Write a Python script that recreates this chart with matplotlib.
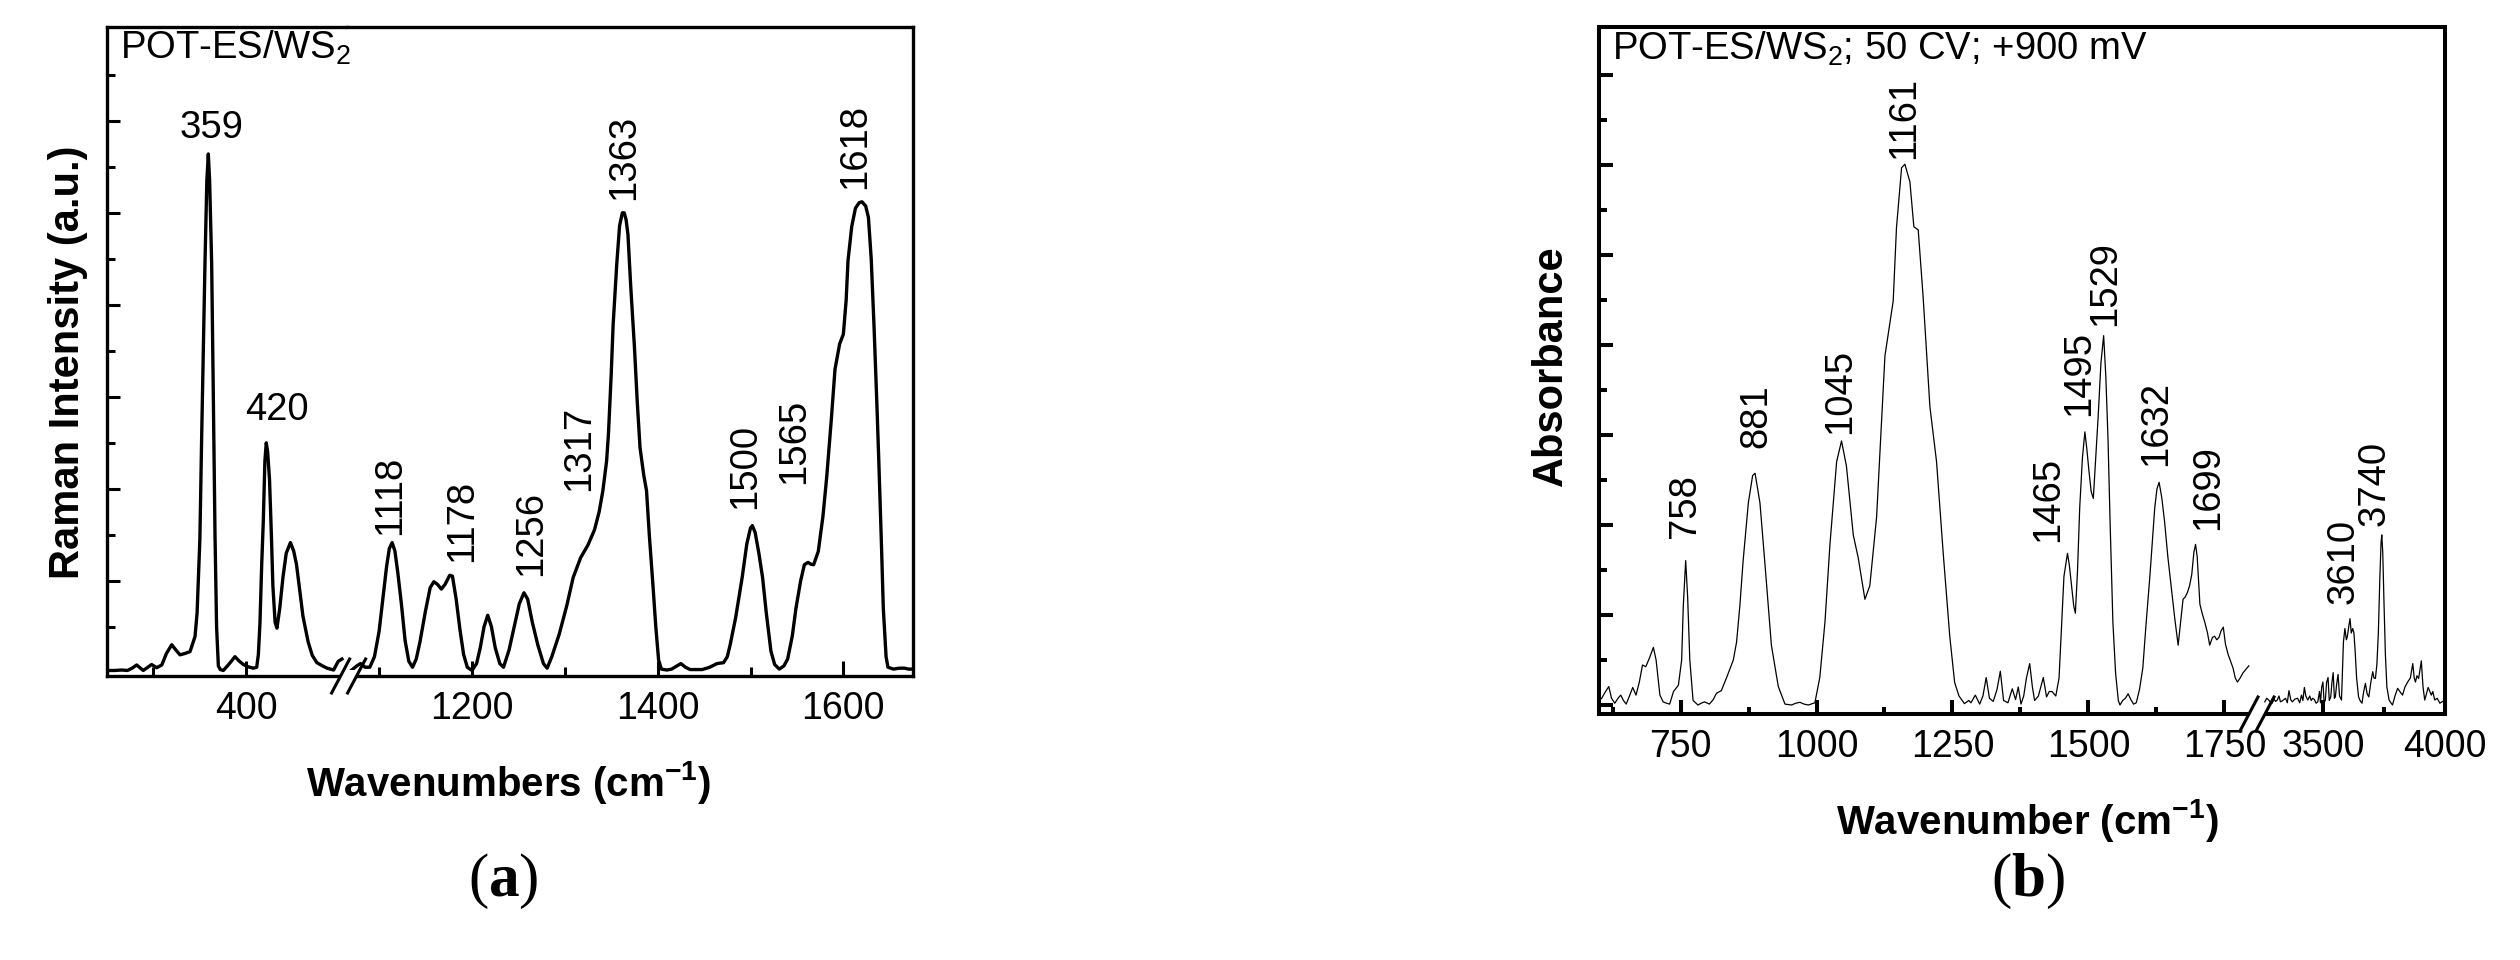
import matplotlib
matplotlib.use("Agg")
import matplotlib.pyplot as plt
from matplotlib import font_manager
from matplotlib.lines import Line2D
from matplotlib.patches import Polygon

# ---------------- Panel (a): Raman spectrum ----------------
raman_low_points = [
    (250, 0.05), (258, 0.05), (266, 0.06), (272, 0.05), (277, 0.10), (282, 0.17), (286, 0.10),
    (289, 0.05), (294, 0.12), (298, 0.18), (303.5, 0.11), (309, 0.17), (314, 0.42), (319.7, 0.61),
    (324, 0.50), (328.6, 0.39), (334, 0.42), (339.4, 0.46), (344.8, 0.79), (347, 1.3), (350, 2.9),
    (352, 5.2), (355.5, 8.9), (357.5, 10.7), (359.1, 11.28), (360.5, 10.7), (362.7, 8.9),
    (364.5, 6.0), (366.3, 3.0), (368, 1.0), (369.9, 0.15), (372, 0.07), (375.3, 0.05), (381, 0.18),
    (387.8, 0.35), (392, 0.26), (396.8, 0.18), (402, 0.13), (407.6, 0.10), (411.2, 0.12), (413, 0.4),
    (414.7, 1.08), (416.6, 2.36), (418.3, 3.3), (420, 4.6), (421.5, 5.0), (423, 4.8), (425, 4.2),
    (427, 3.0), (428.6, 1.9), (431, 1.1), (433, 0.97), (436, 1.4), (439.5, 2.08), (443, 2.6),
    (447.5, 2.83), (451, 2.65), (454, 2.36), (457.5, 1.8), (461, 1.23), (466.6, 0.67), (471, 0.38),
    (476, 0.22), (482, 0.15), (487, 0.10), (494, 0.06), (499, 0.25), (503, 0.30),
]
raman_high_points = [
    (1070, 0.05), (1076, 0.15), (1080, 0.2), (1085, 0.12), (1090, 0.12), (1095, 0.35), (1100, 0.9),
    (1104, 1.6), (1108, 2.3), (1111, 2.7), (1114, 2.83), (1117, 2.65), (1120, 2.2), (1124, 1.5),
    (1128, 0.7), (1132, 0.25), (1136, 0.12), (1140, 0.3), (1144, 0.67), (1150, 1.35), (1155, 1.85),
    (1159, 1.98), (1163, 1.92), (1167, 1.82), (1171, 1.92), (1176, 2.12), (1179, 2.1), (1183, 1.6),
    (1187, 0.95), (1191, 0.4), (1195, 0.12), (1200, 0.05), (1205, 0.2), (1209, 0.55), (1213, 1.0),
    (1217, 1.25), (1221, 1.0), (1225, 0.55), (1230, 0.2), (1234, 0.12), (1240, 0.5), (1246, 1.05),
    (1251, 1.5), (1256, 1.74), (1260, 1.6), (1265, 1.1), (1271, 0.6), (1277, 0.2), (1281, 0.1),
    (1286, 0.35), (1294, 0.84), (1302, 1.45), (1309, 2.07), (1317, 2.5), (1325, 2.78), (1332, 3.11),
    (1337, 3.5), (1341, 3.96), (1345, 4.6), (1347, 5.19), (1350, 6.5), (1352, 7.55), (1356, 8.9),
    (1359, 9.72), (1362, 10.0), (1364, 10.0), (1366, 9.85), (1368, 9.53), (1371, 8.4), (1375, 7.08),
    (1378, 5.9), (1381, 4.9), (1385, 4.3), (1388, 3.96), (1391, 3.0), (1395, 1.88), (1398, 1.0),
    (1401, 0.28), (1404, 0.08), (1410, 0.06), (1415, 0.08), (1420, 0.14), (1425, 0.2), (1430, 0.12),
    (1435, 0.07), (1448, 0.07), (1456, 0.12), (1464, 0.2), (1471, 0.22), (1475, 0.35), (1478, 0.6),
    (1484, 1.2), (1491, 2.07), (1496, 2.8), (1500, 3.15), (1502, 3.2), (1505, 3.05), (1509, 2.6),
    (1513, 2.07), (1517, 1.3), (1522, 0.47), (1526, 0.18), (1531, 0.08), (1536, 0.15), (1540, 0.3),
    (1545, 0.8), (1549, 1.41), (1554, 2.0), (1558, 2.35), (1562, 2.4), (1565, 2.36), (1568, 2.35),
    (1573, 2.64), (1578, 3.4), (1582, 4.24), (1587, 5.5), (1591, 6.6), (1596, 7.15), (1600, 7.36),
    (1603, 8.1), (1605, 8.96), (1609, 9.7), (1613, 10.1), (1617, 10.22), (1620, 10.24),
    (1624, 10.15), (1627, 9.9), (1630, 9.0), (1633, 7.55), (1636, 5.9), (1638, 4.71), (1641, 2.8),
    (1643, 1.41), (1646, 0.35), (1648, 0.12), (1654, 0.08), (1660, 0.1), (1666, 0.1), (1670, 0.08),
    (1675, 0.08),
]
raman_xlim_low = (250, 508)
raman_xlim_high = (1065, 1675)
raman_ylim = (-0.07, 14.04)
raman_major_low = [400]
raman_minor_low = [300]
raman_major_high = [1200, 1400, 1600]
raman_minor_high = [1100, 1300, 1500]
raman_yticks_major = [2, 4, 6, 8, 10, 12]
raman_yticks_minor = [1, 3, 5, 7, 9, 11, 13]
raman_flat_labels = ["359", "420"]
raman_flat_x = [363, 433]
raman_flat_y = [11.63, 5.5]
raman_rot_labels = ["1118", "1178", "1256", "1317", "1363", "1500", "1565", "1618"]
raman_rot_x = [1111.7, 1189, 1263.5, 1315, 1364, 1494.5, 1547, 1613]
raman_rot_y = [3.0, 2.4, 2.1, 3.95, 10.28, 3.55, 4.1, 10.52]

# ---------------- Panel (b): FTIR spectrum ----------------
ftir_low_points = [
    (600, 0.1), (605, 0.15), (612, 0.3), (618, 0.41), (623, 0.15), (629, 0.04), (635, 0.15),
    (640, 0.22), (645, 0.1), (650, 0.02), (656, 0.2), (662, 0.39), (668, 0.22), (674, 0.5),
    (680, 0.89), (686, 0.85), (693, 1.05), (700, 1.28), (705, 1.0), (709, 0.55), (712, 0.22),
    (718, 0.07), (724, 0.04), (730, 0.02), (737, 0.3), (746, 0.44), (752, 1.0), (755, 2.2),
    (759.4, 3.21), (763, 2.4), (767, 1.0), (773, 0.1), (782, 0.0), (788, 0.04), (794, 0.07),
    (803, 0.02), (810, 0.12), (816, 0.26), (825, 0.32), (835, 0.62), (847, 1.0), (853, 1.4),
    (859, 2.2), (865, 3.2), (874.6, 4.49), (882.5, 5.1), (887, 5.15), (896, 4.49), (905, 3.16),
    (917, 1.33), (929.7, 0.41), (942, 0.02), (954, 0.0), (962, 0.04), (969.5, 0.06), (977, 0.02),
    (985, 0.0), (997, 0.05), (1006, 0.61), (1015.5, 1.84), (1024.7, 3.57), (1037, 5.41),
    (1046, 5.87), (1055, 5.31), (1067.6, 3.78), (1076.7, 3.27), (1089, 2.35), (1098, 2.65),
    (1110.5, 4.18), (1125.8, 7.76), (1141, 8.98), (1147, 10.6), (1156.4, 11.94), (1162.5, 12.02),
    (1171.7, 11.63), (1179, 10.63), (1187, 10.56), (1196, 9.08), (1208.5, 6.63), (1220.7, 5.41),
    (1233, 3.37), (1245, 1.53), (1254, 0.5), (1262, 0.2), (1272, 0.03), (1280, 0.1), (1284, 0.05),
    (1292, 0.22), (1300, 0.02), (1306, 0.2), (1312, 0.61), (1318, 0.15), (1325, 0.08), (1332, 0.35),
    (1338, 0.75), (1344, 0.1), (1352, 0.05), (1360, 0.36), (1366, 0.12), (1371, 0.4), (1376, 0.02),
    (1381, 0.2), (1386, 0.6), (1392, 0.92), (1397, 0.4), (1401, 0.1), (1408, 0.2), (1417, 0.61),
    (1423, 0.18), (1428, 0.3), (1433, 0.3), (1440, 0.2), (1446, 0.6), (1450, 1.6), (1455, 2.86),
    (1461.5, 3.37), (1465, 3.1), (1469, 2.65), (1473, 2.2), (1476, 2.04), (1480, 3.0), (1484, 4.39),
    (1489, 5.5), (1493.5, 6.07), (1497, 5.7), (1501, 5.2), (1505, 4.75), (1509, 4.59), (1513, 5.4),
    (1518, 6.43), (1523, 7.6), (1528, 8.21), (1532, 7.3), (1536, 5.92), (1540, 4.0), (1545, 1.84),
    (1550, 0.7), (1555, 0.1), (1558, 0.0), (1563, 0.1), (1568, 0.15), (1573, 0.25), (1578, 0.12),
    (1583, 0.02), (1588, 0.05), (1594, 0.35), (1600, 0.82), (1606, 1.8), (1613, 2.86), (1618, 3.7),
    (1622, 4.39), (1626, 4.8), (1630, 4.95), (1635, 4.6), (1640, 4.08), (1646, 3.3), (1653, 2.55),
    (1659, 1.9), (1665, 1.33), (1670, 1.9), (1674, 2.35), (1678, 2.4), (1682, 2.5), (1686, 2.65),
    (1690, 2.9), (1694, 3.4), (1697, 3.57), (1700, 3.3), (1705, 2.24), (1710, 2.0), (1714, 1.84),
    (1719, 1.6), (1723, 1.33), (1728, 1.5), (1732, 1.53), (1736, 1.45), (1740, 1.5), (1744, 1.65),
    (1748, 1.73), (1752, 1.35), (1757, 1.12), (1762, 0.95), (1766, 0.82), (1770, 0.6), (1774, 0.51),
    (1779, 0.6), (1784, 0.71), (1790, 0.8), (1795, 0.87),
]
ftir_high_points = [
    (3262, 0.07), (3270, 0.15), (3278, 0.11), (3285, 0.06), (3292, 0.04), (3300, 0.13), (3306, 0.08),
    (3313, 0.11), (3320, 0.2), (3326, 0.07), (3333, 0.09), (3340, 0.12), (3347, 0.15), (3354, 0.05),
    (3361, 0.32), (3368, 0.12), (3375, 0.07), (3385, 0.13), (3396, 0.15), (3405, 0.05), (3412, 0.22),
    (3418, 0.1), (3424, 0.39), (3430, 0.2), (3438, 0.11), (3446, 0.2), (3452, 0.1), (3458, 0.15),
    (3465, 0.12), (3472, 0.04), (3479, 0.07), (3486, 0.3), (3490, 0.05), (3495, 0.4), (3500, 0.51),
    (3505, 0.05), (3510, 0.11), (3515, 0.5), (3521, 0.61), (3526, 0.1), (3532, 0.18), (3537, 0.5),
    (3542, 0.72), (3547, 0.15), (3551, 0.18), (3556, 0.45), (3562, 0.68), (3568, 0.2), (3576, 0.11),
    (3584, 1.4), (3590, 1.7), (3596, 1.45), (3600, 1.52), (3606, 1.75), (3611, 1.92), (3616, 1.6),
    (3622, 1.7), (3627, 1.6), (3632, 1.2), (3638, 0.6), (3646, 0.18), (3652, 0.1), (3660, 0.04),
    (3667, 0.3), (3674, 0.48), (3681, 0.25), (3688, 0.18), (3696, 0.5), (3704, 0.74), (3709, 0.6),
    (3715, 0.59), (3721, 0.9), (3727, 1.6), (3733, 2.8), (3738, 3.6), (3741, 3.78), (3745, 3.4),
    (3750, 2.3), (3756, 1.1), (3762, 0.4), (3771, 0.11), (3778, 0.05), (3785, 0.0), (3795, 0.2),
    (3806, 0.37), (3815, 0.3), (3826, 0.22), (3836, 0.4), (3847, 0.51), (3858, 0.6), (3868, 0.92),
    (3874, 0.6), (3879, 0.51), (3885, 0.65), (3892, 0.59), (3898, 0.8), (3903, 0.98), (3910, 0.4),
    (3917, 0.11), (3924, 0.25), (3931, 0.39), (3938, 0.3), (3944, 0.22), (3950, 0.3), (3958, 0.11),
    (3968, 0.15), (3979, 0.04), (3990, 0.08), (3998, 0.07),
]
ftir_xlim_low = (600, 1810)
ftir_xlim_high = (3230, 4000)
ftir_ylim = (-0.2, 15.07)
ftir_major_low = [750, 1000, 1250, 1500, 1750]
ftir_minor_low = [625, 875, 1125, 1375, 1625]
ftir_major_high = [3500, 4000]
ftir_minor_high = [3750]
ftir_yticks_major = [0, 2, 4, 6, 8, 10, 12, 14]
ftir_yticks_minor = [1, 3, 5, 7, 9, 11, 13]
ftir_rot_labels_low = ["758", "881", "1045", "1161", "1465", "1495", "1529", "1632", "1699"]
ftir_rot_x_low = [759, 890, 1043, 1161, 1426, 1482, 1530, 1624, 1720]
ftir_rot_y_low = [3.72, 5.71, 6.02, 12.14, 3.62, 6.43, 8.42, 5.31, 3.88]
ftir_rot_labels_high = ["3610", "3740"]
ftir_rot_x_high = [3586, 3711]
ftir_rot_y_high = [2.24, 3.98]

# ---------------- fonts ----------------
names = {f.name for f in font_manager.fontManager.ttflist}
NARROW = "Liberation Sans Narrow" if "Liberation Sans Narrow" in names else "Liberation Sans"
TICK_SIZE = 36 if NARROW == "Liberation Sans Narrow" else 27
XLAB_SIZE = 36.5 if NARROW == "Liberation Sans Narrow" else 29

plt.rcParams["font.family"] = ["Liberation Sans", "DejaVu Sans"]
plt.rcParams["mathtext.fontset"] = "custom"
plt.rcParams["mathtext.rm"] = "Liberation Sans"
plt.rcParams["mathtext.it"] = "Liberation Sans:italic"
plt.rcParams["mathtext.bf"] = "Liberation Serif:bold"
plt.rcParams["mathtext.sf"] = NARROW + ":bold"

W, H = 2520, 960
fig = plt.figure(figsize=(W / 100, H / 100), dpi=100, facecolor="white")


def add_ax(xa, xb, ytop, ybot):
    return fig.add_axes([xa / W, 1 - ybot / H, (xb - xa) / W, (ybot - ytop) / H])


def style_axes(ax, side, spine_lw, tick_w, xl_major, xl_minor, yl_major, yl_minor):
    for s in ax.spines.values():
        s.set_linewidth(spine_lw)
    if side == "left":
        ax.spines["right"].set_visible(False)
        ax.tick_params(axis="y", which="major", direction="in", length=yl_major, width=tick_w,
                       left=True, right=False, labelleft=False)
        ax.tick_params(axis="y", which="minor", direction="in", length=yl_minor, width=tick_w,
                       left=True, right=False)
    else:
        ax.spines["left"].set_visible(False)
        ax.tick_params(axis="y", which="both", left=False, right=False, labelleft=False)
    ax.tick_params(axis="x", which="major", direction="in", length=xl_major, width=tick_w,
                   top=False, pad=11)
    ax.tick_params(axis="x", which="minor", direction="in", length=xl_minor, width=tick_w,
                   top=False)


def set_xt(ax, major, minor):
    ax.set_xticks(major)
    ax.set_xticks(minor, minor=True)
    ax.set_xticklabels([str(v) for v in major], fontfamily=NARROW, fontsize=TICK_SIZE)


# ---------------- Panel (a) ----------------
LA0, LAB, LA1, TOP_A, BOT_A = 107, 346.6, 913, 27, 676
axA = add_ax(LA0, LAB, TOP_A, BOT_A)
axB = add_ax(LAB, LA1, TOP_A, BOT_A)
xa, ya = zip(*raman_low_points)
xb, yb = zip(*raman_high_points)
axA.plot(xa, ya, color="black", lw=2.4, solid_joinstyle="round")
axB.plot(xb, yb, color="black", lw=2.4, solid_joinstyle="round")
axA.set_xlim(*raman_xlim_low)
axB.set_xlim(*raman_xlim_high)
for ax in (axA, axB):
    ax.set_ylim(*raman_ylim)
axA.set_yticks(raman_yticks_major)
axA.set_yticks(raman_yticks_minor, minor=True)
style_axes(axA, "left", 2.4, 2.2, 11, 6.5, 9.5, 5.5)
style_axes(axB, "right", 2.4, 2.2, 11, 6.5, 9.5, 5.5)
set_xt(axA, raman_major_low, raman_minor_low)
set_xt(axB, raman_major_high, raman_minor_high)

for t, x, y in zip(raman_flat_labels, raman_flat_x, raman_flat_y):
    axA.text(x, y, t, ha="center", va="baseline", fontsize=27.5, clip_on=False)
for t, x, y in zip(raman_rot_labels, raman_rot_x, raman_rot_y):
    axB.text(x, y, t, ha="center", va="bottom", rotation=90, fontsize=27.5, clip_on=False)

fig.text(120 / W, 1 - 29 / H, r"POT-ES/WS$_2$", ha="left", va="top", fontsize=27.5)
fig.text(68 / W, 1 - 362 / H, "Raman Intensity (a.u.)", rotation=90, ha="center", va="center",
         fontsize=30, fontweight="bold")
fig.text(508 / W, 1 - 783 / H, r"Wavenumbers (cm$^{\mathsf{-1}}$)", ha="center", va="center",
         fontsize=XLAB_SIZE, fontweight="bold", fontfamily=NARROW)
fig.text(503 / W, 1 - 881 / H, r"($\mathbf{a}$)", ha="center", va="center", fontsize=44,
         fontfamily="Liberation Serif")

# ---------------- Panel (b) ----------------
RB0, RBB, RB1, TOP_B, BOT_B = 1599, 2257, 2445, 27, 714
ax1 = add_ax(RB0, RBB, TOP_B, BOT_B)
ax2 = add_ax(RBB, RB1, TOP_B, BOT_B)
x1, y1 = zip(*ftir_low_points)
x2, y2 = zip(*ftir_high_points)
ax1.plot(x1, y1, color="black", lw=0.9)
ax2.plot(x2, y2, color="black", lw=0.9)
ax1.set_xlim(*ftir_xlim_low)
ax2.set_xlim(*ftir_xlim_high)
for ax in (ax1, ax2):
    ax.set_ylim(*ftir_ylim)
ax1.set_yticks(ftir_yticks_major)
ax1.set_yticks(ftir_yticks_minor, minor=True)
style_axes(ax1, "left", 2.9, 2.9, 10, 5, 10, 6)
style_axes(ax2, "right", 2.9, 2.9, 10, 5, 10, 6)
set_xt(ax1, ftir_major_low, ftir_minor_low)
set_xt(ax2, ftir_major_high, ftir_minor_high)

for t, x, y in zip(ftir_rot_labels_low, ftir_rot_x_low, ftir_rot_y_low):
    ax1.text(x, y, t, ha="center", va="bottom", rotation=90, fontsize=27.5, clip_on=False)
for t, x, y in zip(ftir_rot_labels_high, ftir_rot_x_high, ftir_rot_y_high):
    ax2.text(x, y, t, ha="center", va="bottom", rotation=90, fontsize=27.5, clip_on=False)

fig.text(1612 / W, 1 - 30 / H, r"POT-ES/WS$_2$; 50 CV; +900 mV", ha="left", va="top",
         fontsize=27.5)
fig.text(1551 / W, 1 - 366 / H, "Absorbance", rotation=90, ha="center", va="center",
         fontsize=30, fontweight="bold")
fig.text(2027 / W, 1 - 820 / H, r"Wavenumber (cm$^{\mathsf{-1}}$)", ha="center", va="center",
         fontsize=XLAB_SIZE, fontweight="bold", fontfamily=NARROW)
fig.text(2028 / W, 1 - 881 / H, r"($\mathbf{b}$)", ha="center", va="center", fontsize=44,
         fontfamily="Liberation Serif")


# ---------------- axis-break marks ----------------
def break_mark(cx, cy, lw):
    dx, dy, sep = 9, 17, 8
    a = dx * 6 / dy
    c1, c2 = cx - sep, cx + sep
    poly = [(c1 - a, cy + 6), (c2 - a, cy + 6), (c2 + a, cy - 6), (c1 + a, cy - 6)]
    fig.add_artist(Polygon([(px / W, 1 - py / H) for px, py in poly], closed=True,
                           transform=fig.transFigure, facecolor="white", edgecolor="none",
                           zorder=5))
    for c in (c1, c2):
        fig.add_artist(Line2D([(c - dx) / W, (c + dx) / W], [1 - (cy + dy) / H, 1 - (cy - dy) / H],
                              transform=fig.transFigure, color="black", lw=lw, zorder=6))


break_mark(LAB + 2, BOT_A, 2.2)
break_mark(RBB, BOT_B, 2.2)

fig.savefig("out.png", dpi=100, facecolor="white")
